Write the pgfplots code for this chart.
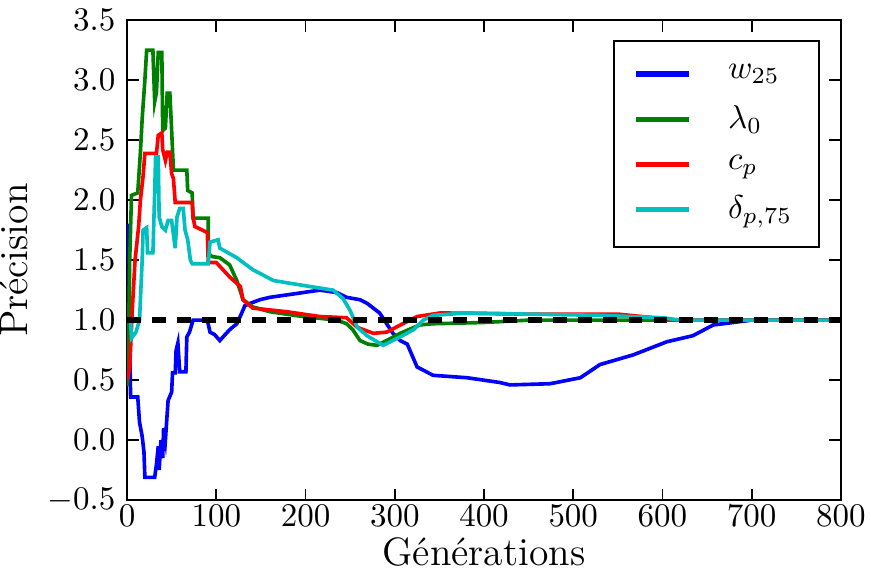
\documentclass[border=0pt]{standalone}
\usepackage{pgfplots}
\pgfplotsset{compat=1.18}
\definecolor{mplblue}{rgb}{0,0,1}
\definecolor{mplgreen}{rgb}{0,0.5,0}
\definecolor{mplred}{rgb}{1,0,0}
\definecolor{mplcyan}{rgb}{0,0.75,0.75}
\begin{document}
\begin{tikzpicture}
\begin{axis}[
  scale only axis,
  width=216.4pt, height=145.5pt,
  xmin=0, xmax=800, ymin=-0.5, ymax=3.5,
  xtick={0,100,...,800},
  ytick={-0.5,0,0.5,1,1.5,2,2.5,3,3.5},
  yticklabel style={/pgf/number format/.cd, fixed, fixed zerofill, precision=1},
  xticklabel style={yshift=2pt},
  tick align=inside,
  major tick length=3.5pt,
  axis line style={line width=0.6pt},
  every tick/.style={black, line width=0.5pt},
  xlabel={Générations}, ylabel={Précision},
  label style={font=\large},
  xlabel style={yshift=3.5pt},
  ylabel style={yshift=-1pt},
  legend cell align=left,
  legend style={at={(rel axis cs:0.97,0.958)}, anchor=north east, draw=black, line width=0.6pt,
    inner xsep=6pt, inner ysep=5pt, row sep=2.6pt, font=\normalsize,
    /tikz/every odd column/.append style={column sep=9pt}},
  legend image code/.code={\draw[#1, line width=1.6pt] (0pt,0pt) -- (16pt,0pt);},
]
\addplot[mplblue, line width=1.1pt] coordinates {
(0,1.8)(2,1.75)(3,0.8)(4,0.36)(12,0.36)(14,0.15)(17,0.03)(19,-0.1)(20,-0.31)(31,-0.31)(33,-0.2)(35,-0.05)(36,-0.25)(38,0.0)(40,-0.15)(41,0.1)(43,0.0)(44,0.11)(46,0.33)(50,0.4)(51,0.56)(54,0.56)(55,0.75)(57,0.81)(59,0.57)(66,0.57)(67,0.86)(70,0.9)(74,1.0)(90,1.0)(93,0.9)(98,0.88)(104,0.83)(110,0.88)(115,0.92)(123,0.97)(128,1.05)(132,1.12)(138,1.14)(149,1.17)(160,1.19)(179,1.21)(216,1.25)(235,1.23)(246,1.19)(261,1.17)(269,1.14)(276,1.1)(283,1.06)(298,0.89)(306,0.83)(314,0.8)(325,0.61)(343,0.54)(381,0.52)(418,0.48)(429,0.46)(474,0.47)(508,0.52)(530,0.63)(567,0.71)(605,0.82)(634,0.87)(657,0.96)(679,0.98)(700,1.0)(800,1.0)
};
\addlegendentry{$w_{25}$}
\addplot[mplgreen, line width=1.1pt] coordinates {
(0,0.45)(1,0.5)(3,1.5)(5,2.04)(12,2.06)(15,2.4)(17,2.68)(20,3.0)(22,3.25)(29,3.25)(31,2.82)(33,2.9)(35,3.23)(39,3.23)(40,2.58)(43,2.6)(45,2.89)(48,2.89)(50,2.58)(52,2.25)(67,2.25)(68,2.08)(73,2.06)(74,1.85)(91,1.85)(91,1.56)(95,1.53)(104,1.52)(115,1.46)(123,1.33)(130,1.17)(141,1.11)(160,1.07)(197,1.03)(235,1.0)(246,0.97)(253,0.92)(261,0.83)(270,0.8)(280,0.79)(291,0.83)(306,0.89)(328,0.96)(343,0.97)(399,0.98)(450,1.0)(800,1.0)
};
\addlegendentry{$\lambda_0$}
\addplot[mplred, line width=1.1pt] coordinates {
(0,0.5)(3,0.6)(6,1.1)(9,1.5)(13,1.78)(15,2.0)(18,2.2)(20,2.39)(33,2.39)(35,2.54)(39,2.56)(40,2.42)(43,2.33)(45,2.4)(48,2.4)(50,2.22)(52,2.18)(54,1.98)(73,1.98)(74,1.86)(76,1.78)(90,1.73)(91,1.48)(100,1.48)(115,1.36)(127,1.28)(130,1.17)(141,1.1)(179,1.07)(216,1.03)(246,1.02)(258,0.94)(276,0.89)(291,0.9)(309,0.97)(325,1.03)(351,1.06)(450,1.05)(550,1.05)(590,1.02)(610,1.0)(800,1.0)
};
\addlegendentry{$c_p$}
\addplot[mplcyan, line width=1.1pt] coordinates {
(0,1.0)(4,1.0)(5,0.85)(10,0.9)(14,1.0)(15,1.17)(17,1.5)(18,1.75)(22,1.77)(23,1.56)(29,1.56)(31,2.06)(32,2.36)(35,2.36)(36,1.86)(39,1.78)(43,1.75)(46,1.83)(50,1.83)(54,1.6)(56,1.86)(59,1.93)(63,1.93)(65,1.75)(68,1.67)(71,1.5)(73,1.47)(91,1.47)(93,1.65)(102,1.67)(104,1.6)(123,1.52)(141,1.42)(164,1.33)(205,1.28)(231,1.25)(242,1.18)(250,1.08)(258,0.94)(269,0.87)(287,0.79)(306,0.86)(321,0.92)(332,1.0)(343,1.04)(381,1.06)(450,1.05)(530,1.04)(600,1.02)(620,1.0)(800,1.0)
};
\addlegendentry{$\delta_{p,75}$}
\addplot[black, line width=1.8pt, dash pattern=on 4.2pt off 3.4pt, forget plot] coordinates {(0,1)(800,1)};
\end{axis}
\pgfresetboundingbox
\useasboundingbox ([xshift=-38.5pt, yshift=-22.7pt]current axis.south west) rectangle ([xshift=9.1pt, yshift=6.1pt]current axis.north east);
\end{tikzpicture}
\end{document}
